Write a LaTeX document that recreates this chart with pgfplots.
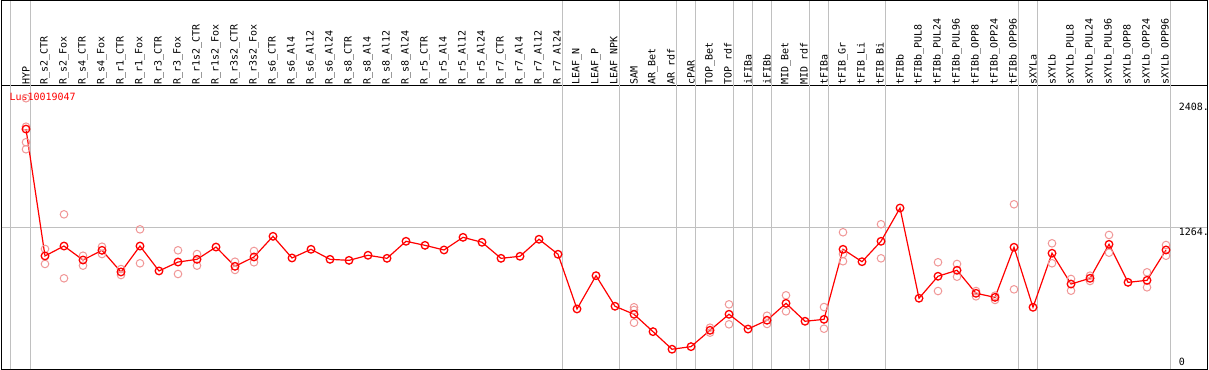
\documentclass[border=0pt]{standalone}
\usepackage{fontspec}
\setmonofont{DejaVu Sans Mono}
\usepackage{pgfplots}
\usepackage{pgfplotstable}
\pgfplotsset{compat=1.18}
\definecolor{grd}{RGB}{192,192,192}
\definecolor{rep}{RGB}{240,150,150}

\pgfplotstableread{
x y
0 2136
1 1011
2 1099
3 975
4 1061
5 869
6 1099
7 878
8 957
9 981
10 1090
11 919
12 1002
13 1185
14 993
15 1070
16 981
17 972
18 1017
19 990
20 1141
21 1105
22 1064
23 1176
24 1132
25 990
26 1008
27 1159
28 1026
29 541
30 836
31 565
32 494
33 340
34 184
35 207
36 352
37 494
38 363
39 441
40 591
41 432
42 449
43 1070
44 960
45 1141
46 1436
47 636
48 831
49 884
50 680
51 644
52 1088
53 556
54 1035
55 762
56 813
57 1114
58 777
59 795
60 1064
}\means

\pgfplotstableread{
x y
0 2409
0 2157
0 2019
0 1957
1 1073
1 940
2 1380
2 813
3 1013
3 925
4 1093
4 1028
5 895
5 842
6 1247
6 946
8 1061
8 851
9 1028
9 925
11 960
11 887
12 1055
12 955
32 556
32 532
32 419
36 375
36 331
37 582
37 405
39 481
39 408
40 662
40 520
42 558
42 366
43 1221
43 1028
43 964
45 1292
45 990
48 955
48 700
49 940
49 827
50 700
50 653
51 659
51 621
52 1469
52 715
54 1123
54 946
55 807
55 703
56 836
56 789
57 1197
57 1040
59 866
59 733
60 1108
60 1013
}\reps

\newcommand{\lf}{\ttfamily\fontsize{10}{12}\selectfont}

\begin{document}
\begin{tikzpicture}
\begin{axis}[
  name=ax,
  scale only axis, width=1205.5pt, height=284pt,
  xmin=-1.2895, xmax=62.158, ymin=4.4, ymax=2522.1,
  axis line style={black, line width=1pt},
  xtick={0,...,60},
  xticklabels={HYP,R\_s2\_CTR,R\_s2\_Fox,R\_s4\_CTR,R\_s4\_Fox,R\_r1\_CTR,R\_r1\_Fox,R\_r3\_CTR,R\_r3\_Fox,R\_r1s2\_CTR,R\_r1s2\_Fox,R\_r3s2\_CTR,R\_r3s2\_Fox,R\_s6\_CTR,R\_s6\_Al4,R\_s6\_Al12,R\_s6\_Al24,R\_s8\_CTR,R\_s8\_Al4,R\_s8\_Al12,R\_s8\_Al24,R\_r5\_CTR,R\_r5\_Al4,R\_r5\_Al12,R\_r5\_Al24,R\_r7\_CTR,R\_r7\_Al4,R\_r7\_Al12,R\_r7\_Al24,LEAF\_N,LEAF\_P,LEAF\_NPK,SAM,AR\_Bet,AR\_rdf,cPAR,TOP\_Bet,TOP\_rdf,iFIBa,iFIBb,MID\_Bet,MID\_rdf,tFIBa,tFIB\_Gr,tFIB\_Li,tFIB\_Bi,tFIBb,tFIBb\_PUL8,tFIBb\_PUL24,tFIBb\_PUL96,tFIBb\_OPP8,tFIBb\_OPP24,tFIBb\_OPP96,sXYLa,sXYLb,sXYLb\_PUL8,sXYLb\_PUL24,sXYLb\_PUL96,sXYLb\_OPP8,sXYLb\_OPP24,sXYLb\_OPP96},
  xticklabel pos=upper,
  xticklabel style={rotate=90, anchor=west, inner sep=1pt, font=\lf},
  ytick=\empty,
  major tick length=0pt,
  clip=false,
]
\pgfplotsinvokeforeach{-0.8,0.235,28.235,31.235,34.235,35.235,37.235,38.235,39.235,41.235,42.235,45.235,52.235,53.235,60.235}{
  \draw[grd, line width=1pt] (axis cs:#1,4.4) -- ([yshift=85pt]axis cs:#1,2522.1);
}
\draw[grd, line width=1pt] (axis cs:-1.2895,1264) -- (axis cs:62.158,1264);
\draw[black, line width=1pt] (rel axis cs:0,1) -- ([yshift=85pt]rel axis cs:0,1) -- ([yshift=85pt]rel axis cs:1,1) -- (rel axis cs:1,1);

\addplot[only marks, mark=o, mark size=3.8pt, mark options={rep, line width=1pt}] table {\reps};
\addplot[red, line width=1.2pt, mark=o, mark size=3.8pt, mark options={red, line width=1.3pt, solid}] table {\means};

\node[anchor=west, inner sep=0pt, text=red, font=\lf] at (axis cs:-0.879,2423) {Lus10019047};
\node[anchor=west, inner sep=0pt, font=\lf] at (axis cs:60.66,2329) {2408.};
\node[anchor=west, inner sep=0pt, font=\lf] at (axis cs:60.66,1221) {1264.};
\node[anchor=west, inner sep=0pt, font=\lf] at (axis cs:60.66,74) {0};
\end{axis}
\pgfresetboundingbox
\path ([xshift=-1.5pt,yshift=-0.5pt]ax.south west) rectangle ([xshift=2pt,yshift=85.5pt]ax.north east);
\end{tikzpicture}
\end{document}
